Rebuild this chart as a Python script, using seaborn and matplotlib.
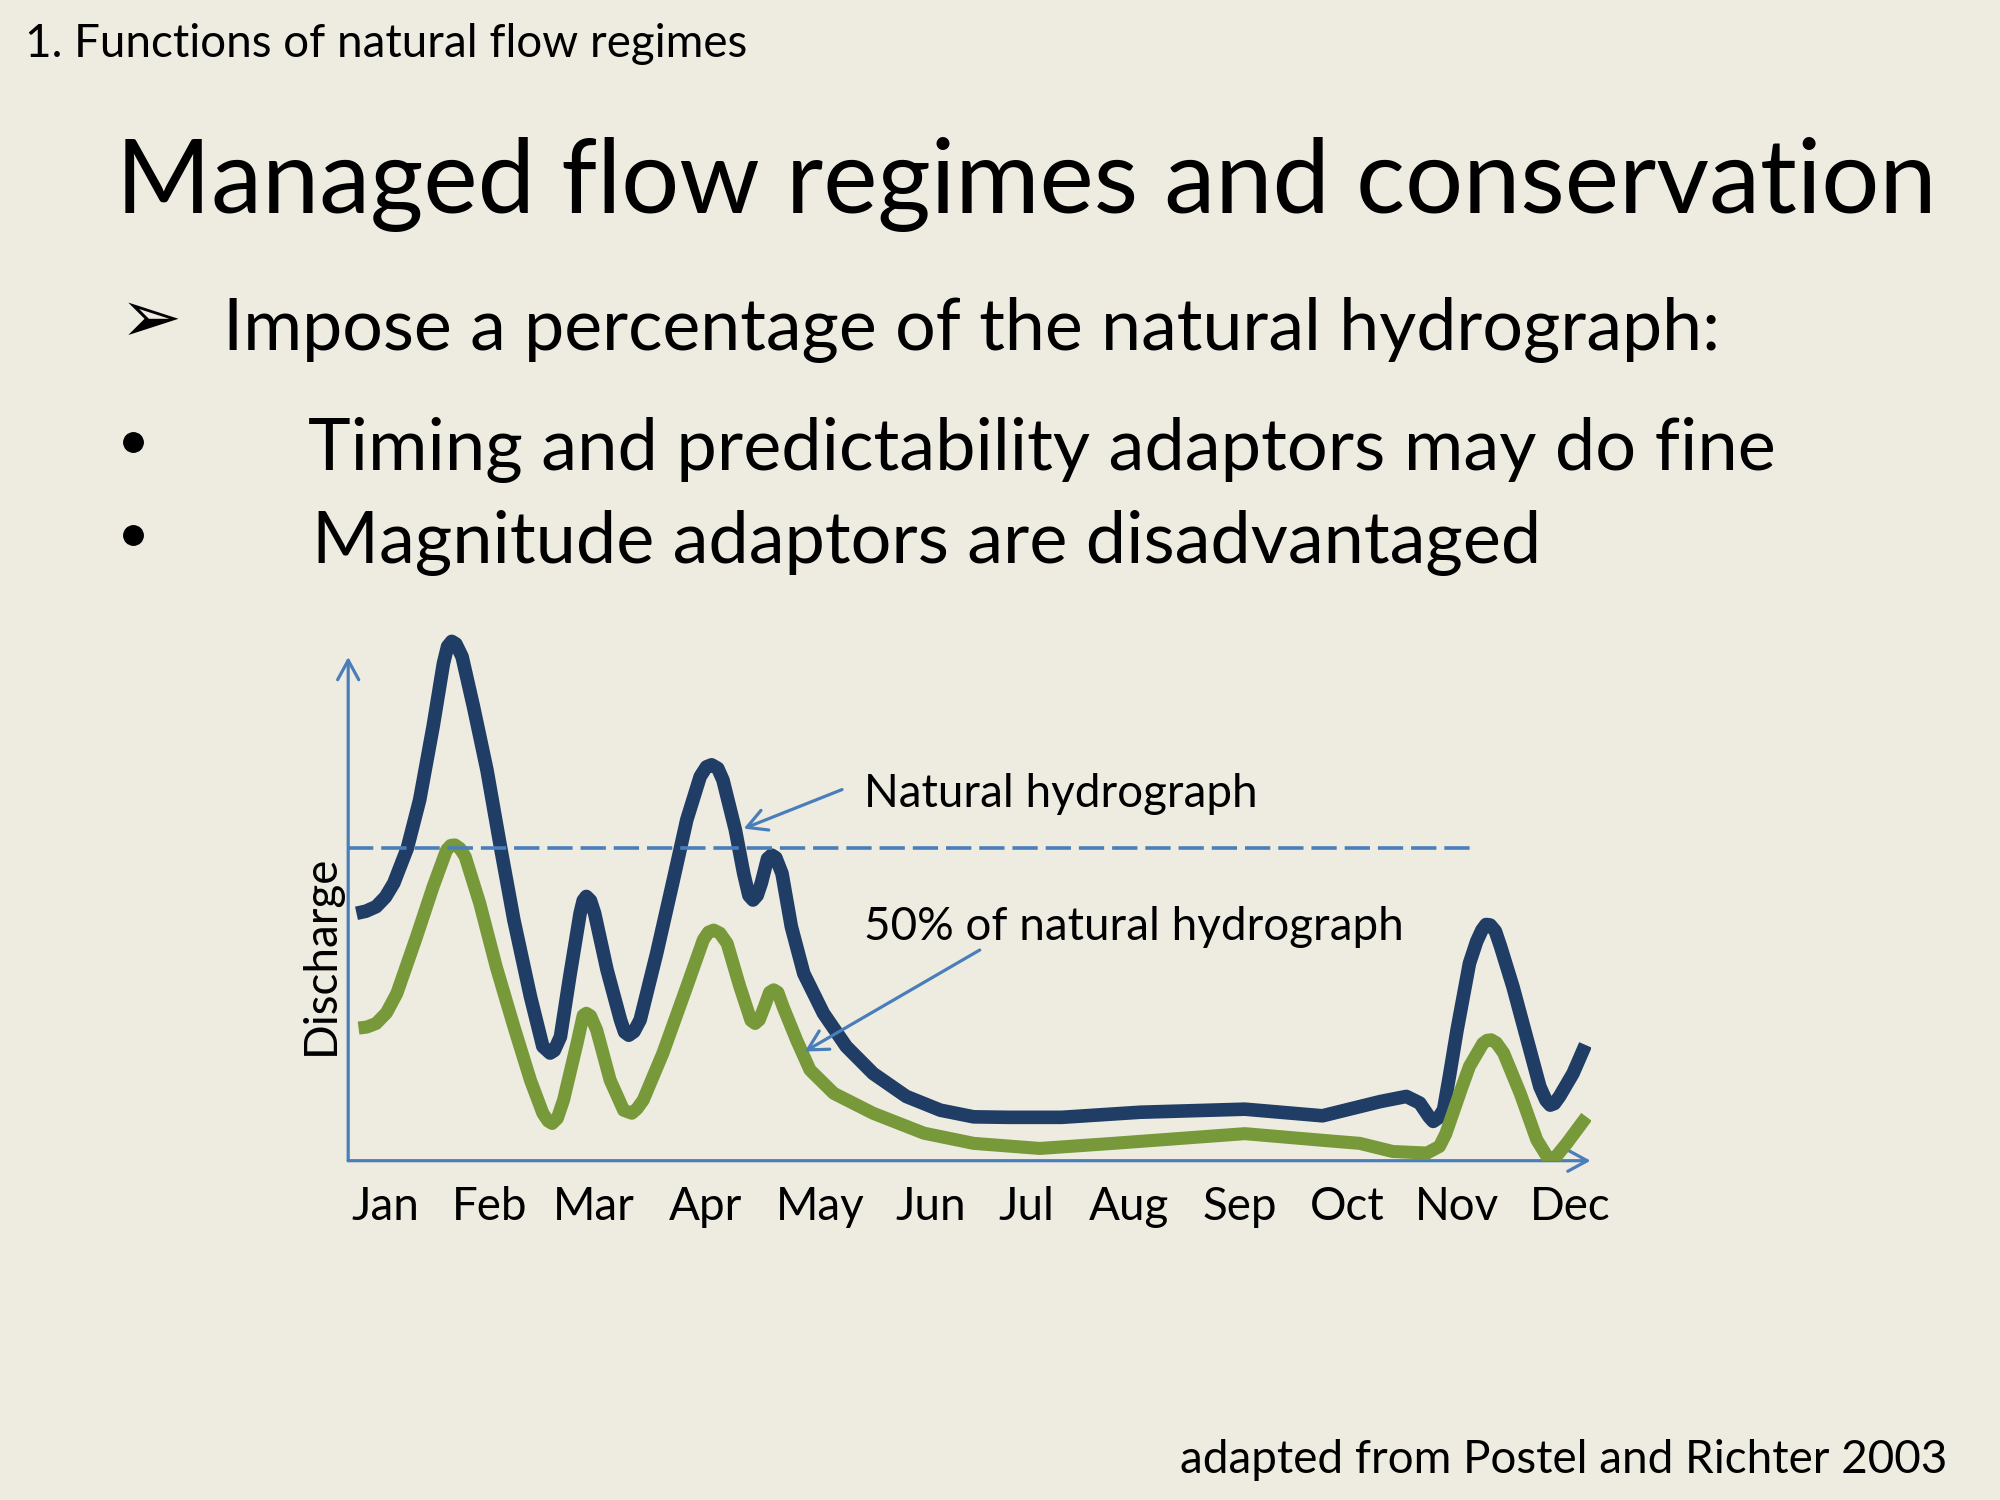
import numpy as np
import pandas as pd
import matplotlib
matplotlib.use("Agg")
import matplotlib.pyplot as plt
from matplotlib.lines import Line2D
import seaborn as sns

# ---------------- data ----------------
natural_month = [0.08, 0.17, 0.27, 0.36, 0.44, 0.57, 0.69, 0.82, 0.92, 0.96, 1.00, 1.04,
                 1.10, 1.21, 1.34, 1.47, 1.60, 1.76, 1.88, 1.95, 1.99, 2.05, 2.14, 2.24,
                 2.27, 2.30, 2.34, 2.38, 2.50, 2.63, 2.67, 2.71, 2.76, 2.82, 2.98, 3.14,
                 3.27, 3.40, 3.46, 3.51, 3.57, 3.62, 3.74, 3.82, 3.87, 3.91, 3.95, 3.99,
                 4.05, 4.09, 4.13, 4.19, 4.28, 4.40, 4.59, 4.81, 5.07, 5.39, 5.72, 6.04,
                 6.38, 6.89, 7.65, 8.66, 9.41, 9.77, 9.97, 10.22, 10.35, 10.44, 10.48,
                 10.53, 10.58, 10.64, 10.71, 10.83, 10.90, 10.95, 10.99, 11.03, 11.08,
                 11.13, 11.25, 11.38, 11.51, 11.57, 11.61, 11.65, 11.70, 11.83, 11.95]
natural_q = [48.5, 48.9, 49.8, 51.7, 54.4, 61.2, 70.7, 85.1, 97.5, 100.8, 101.8, 101.3,
             98.8, 89.0, 76.6, 61.6, 47.2, 32.2, 22.4, 21.1, 21.6, 24.3, 36.1, 48.5,
             51.0, 51.8, 51.0, 48.5, 37.4, 27.6, 25.2, 24.6, 25.3, 27.6, 40.7, 55.0,
             66.8, 75.3, 77.2, 77.6, 76.9, 74.6, 64.8, 56.3, 52.0, 51.1, 52.0, 54.4,
             59.2, 59.9, 59.4, 56.3, 45.9, 36.7, 28.9, 22.4, 17.1, 12.6, 9.9, 8.6,
             8.5, 8.5, 9.5, 10.1, 8.8, 10.6, 11.6, 12.6, 11.3, 8.6, 7.7,
             8.4, 10.0, 17.0, 25.6, 38.7, 43.0, 45.2, 46.3, 46.2, 45.0,
             42.0, 34.1, 24.3, 14.5, 11.8, 10.9, 11.2, 12.6, 17.1, 22.7]

managed_month = [0.10, 0.18, 0.27, 0.37, 0.47, 0.66, 0.82, 0.95, 0.99, 1.03, 1.08, 1.13,
                 1.27, 1.43, 1.60, 1.76, 1.88, 1.93, 1.97, 2.02, 2.08, 2.21, 2.27, 2.30,
                 2.34, 2.40, 2.53, 2.66, 2.74, 2.79, 2.85, 3.04, 3.27, 3.43, 3.48, 3.53,
                 3.59, 3.66, 3.78, 3.89, 3.93, 3.97, 4.02, 4.07, 4.11, 4.15, 4.20, 4.33,
                 4.46, 4.69, 5.07, 5.56, 6.04, 6.68, 7.39, 8.66, 9.41, 9.77, 10.09, 10.42,
                 10.54, 10.60, 10.67, 10.75, 10.83, 10.96, 11.00, 11.04, 11.09, 11.16,
                 11.32, 11.48, 11.58, 11.62, 11.67, 11.77, 11.96]
managed_q = [26.0, 26.2, 26.9, 29.0, 32.8, 43.9, 53.7, 60.9, 61.8, 61.9, 61.2, 59.6,
             50.5, 38.0, 26.3, 15.8, 9.3, 7.8, 7.3, 8.3, 11.9, 23.0, 28.5, 28.9,
             28.4, 25.6, 15.8, 9.9, 9.3, 10.2, 11.9, 21.1, 34.1, 43.3, 44.8, 45.2,
             44.6, 42.6, 34.3, 27.5, 26.9, 27.6, 30.2, 33.0, 33.5, 33.0, 30.2, 23.7,
             17.8, 13.2, 9.3, 5.4, 3.4, 2.4, 3.4, 5.3, 4.0, 3.4, 1.8, 1.5,
             2.8, 5.2, 9.3, 14.0, 18.5, 23.0, 23.6, 23.7, 23.1, 21.1,
             13.2, 4.1, 0.8, 0.1, 0.9, 3.4, 8.6]

threshold_q = 61.25
threshold_end_month = 10.89
axis_top_q = 98.75

month_labels = ["Jan", "Feb", "Mar", "Apr", "May", "Jun",
                "Jul", "Aug", "Sep", "Oct", "Nov", "Dec"]
month_label_pos = [0.36, 1.37, 2.37, 3.45, 4.56, 5.63, 6.55, 7.54, 8.61, 9.65, 10.71, 11.80]

# ---------------- style ----------------
BG = "#EEECE1"
NAVY = "#1F3D65"
GREEN = "#77993A"
BLUE = "#4A7EBB"

sns.set_theme(style="white")
plt.rcParams["font.family"] = ["Lato", "DejaVu Sans"]

W, H = 2000, 1500
fig = plt.figure(figsize=(20, 15), dpi=100, facecolor=BG)
renderer = fig.canvas.get_renderer()


def fit(t, width_px):
    bb = t.get_window_extent(renderer)
    t.set_fontsize(t.get_fontsize() * width_px / bb.width)
    return t


def ftext(x_px, y_px, s, width_px, **kw):
    t = fig.text(x_px / W, 1 - y_px / H, s, fontsize=40, color="black", **kw)
    return fit(t, width_px)


# header texts
ftext(25, 57, "1. Functions of natural flow regimes", 722, ha="left", va="baseline")
ftext(116, 213, "Managed flow regimes and conservation", 1820, ha="left", va="baseline")
ftext(151, 321, "\u27a2", 62, ha="center", va="center", family=["DejaVu Sans"])
ftext(223, 350, "Impose a percentage of the natural hydrograph:", 1499, ha="left", va="baseline")
ftext(308, 470, "Timing and predictability adaptors may do fine", 1465, ha="left", va="baseline")
ftext(312, 563, "Magnitude adaptors are disadvantaged", 1228, ha="left", va="baseline")
for yb in (442, 535):
    fig.add_artist(Line2D([133 / W], [1 - yb / H], marker="o", markersize=14,
                          color="black", transform=fig.transFigure))
ftext(1180, 1473, "adapted from Postel and Richter 2003", 766, ha="left", va="baseline")

# ---------------- chart ----------------
ax = fig.add_axes([0.1741, 0.2262, 0.6212, 0.3741])
ax.set_facecolor("none")
ax.set_xlim(0, 12)
ax.set_ylim(0, 110)
for sp in ax.spines.values():
    sp.set_visible(False)

df_nat = pd.DataFrame({"month": natural_month, "discharge": natural_q})
df_man = pd.DataFrame({"month": managed_month, "discharge": managed_q})

arrow_kw = dict(arrowstyle="->,head_length=0.7,head_width=0.38", color=BLUE,
                lw=2.3, shrinkA=0, shrinkB=0, mutation_scale=20)
# axes with arrowheads
ax.annotate("", xy=(12, 0), xytext=(0, 0), arrowprops=arrow_kw,
            annotation_clip=False, zorder=1)
ax.annotate("", xy=(0, axis_top_q), xytext=(0, 0), arrowprops=arrow_kw,
            annotation_clip=False, zorder=1)

sns.lineplot(data=df_nat, x="month", y="discharge", ax=ax, color=NAVY, linewidth=9.8,
             estimator=None, sort=False, solid_capstyle="butt", solid_joinstyle="round",
             zorder=3)
sns.lineplot(data=df_man, x="month", y="discharge", ax=ax, color=GREEN, linewidth=9.4,
             estimator=None, sort=False, solid_capstyle="butt", solid_joinstyle="round",
             zorder=4)

ax.plot([0, threshold_end_month], [threshold_q, threshold_q], color=BLUE, lw=2.6,
        dashes=(7, 2.2), zorder=5)

# callouts
lab1 = ax.text(4.98, 69.4, "Natural hydrograph", ha="left", va="baseline",
               fontsize=40, color="black")
fit(lab1, 393)
fs = lab1.get_fontsize()
ax.text(4.98, 43.25, "50% of natural hydrograph", ha="left", va="baseline",
        fontsize=fs, color="black")
ax.annotate("", xy=(3.82, 65.1), xytext=(4.77, 72.75), arrowprops=arrow_kw, zorder=6)
ax.annotate("", xy=(4.41, 21.4), xytext=(6.10, 41.3), arrowprops=arrow_kw, zorder=6)

ax.set_xlabel("")
ax.set_ylabel("")
ax.set_yticks([])
ax.set_xticks(month_label_pos)
ax.set_xticklabels(month_labels, fontsize=fs, color="black")
ax.tick_params(axis="x", length=0, pad=43)
for lbl in ax.get_xticklabels():
    lbl.set_va("baseline")

fig.text(334 / W, 1 - 955 / H, "Discharge", rotation=90, rotation_mode="anchor",
         ha="center", va="baseline", fontsize=fs, color="black")

fig.savefig("out.png", dpi=100, facecolor=BG)
